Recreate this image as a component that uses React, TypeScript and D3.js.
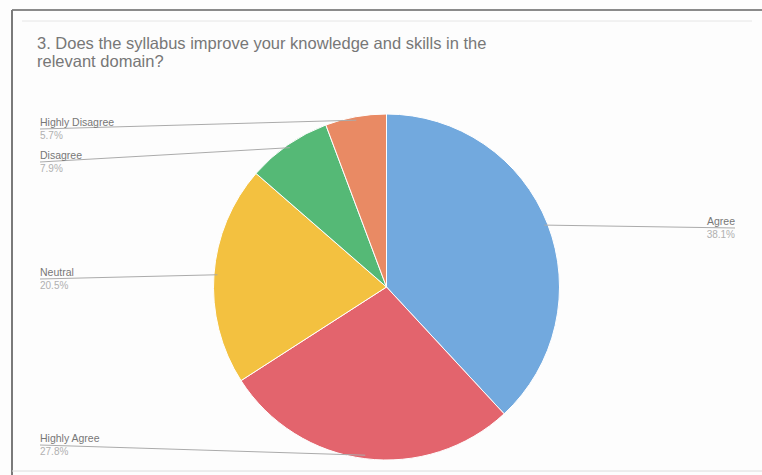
import React from "react";
import * as d3 from "d3";

const categories = ["Agree", "Highly Agree", "Neutral", "Disagree", "Highly Disagree"];
const values = [38.1, 27.8, 20.5, 7.9, 5.7];
const colors = ["#72a9de", "#e3646d", "#f3c140", "#55b976", "#e98a64"];
const titleLines = [
  "3.  Does the syllabus improve your knowledge and skills in the",
  "relevant domain?",
];
// label anchor y (line) for each category
const labelLineY = [228, 445, 279, 162, 129];
const labelSide = ["right", "left", "left", "left", "left"];

export default function App() {
  const W = 762, H = 475;
  const cx = 386.5, cy = 287, r = 173;
  const pie = d3.pie<number>().sort(null).value((d) => d);
  const arcs = pie(values);
  const arcGen = d3.arc<d3.PieArcDatum<number>>().innerRadius(0).outerRadius(r);

  return (
    <svg width={W} height={H} style={{ position: "absolute", left: 0, top: 0, background: "#fff" }}
      fontFamily="Arial, 'Liberation Sans', sans-serif">
      <rect x={0} y={0} width={W} height={H} fill="#fdfdfd" />
      <line x1={12} y1={10} x2={W} y2={10} stroke="#8a8a8a" strokeWidth={2} />
      <line x1={12} y1={10} x2={12} y2={H} stroke="#7a7a7a" strokeWidth={2} />
      <line x1={22} y1={21} x2={752} y2={21} stroke="#e6e6e6" strokeWidth={1} />
      <line x1={12} y1={471} x2={W} y2={471} stroke="#dcdcdc" strokeWidth={1} />
      {titleLines.map((t, i) => (
        <text key={i} x={37} y={49 + i * 18} fontSize={16.5} fill="#777777">{t}</text>
      ))}
      <g transform={`translate(${cx},${cy})`}>
        {arcs.map((a, i) => (
          <path key={i} d={arcGen(a) || ""} fill={colors[i]} stroke="#fff" strokeWidth={1} />
        ))}
      </g>
      {arcs.map((a, i) => {
        const mid = (a.startAngle + a.endAngle) / 2;
        const px = cx + Math.sin(mid) * r * 0.98;
        const py = cy - Math.cos(mid) * r * 0.98;
        const ly = labelLineY[i];
        const right = labelSide[i] === "right";
        const tx = right ? 735 : 40;
        return (
          <g key={i}>
            <line x1={tx} y1={ly} x2={px} y2={py} stroke="#ababab" strokeWidth={1} />
            <text x={tx} y={ly - 3} fontSize={10.5} fill="#777777" textAnchor={right ? "end" : "start"}>
              {categories[i]}
            </text>
            <text x={tx} y={ly + 10} fontSize={10} fill="#b0b0b0" textAnchor={right ? "end" : "start"}>
              {values[i].toFixed(1)}%
            </text>
          </g>
        );
      })}
    </svg>
  );
}
